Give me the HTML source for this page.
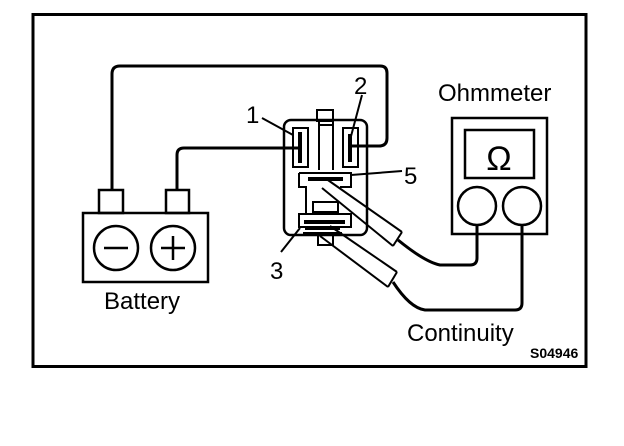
<!DOCTYPE html>
<html><head><style>body{margin:0;background:#fff}svg{display:block}text{font-family:"Liberation Sans",sans-serif;fill:#000}</style></head>
<body>
<svg width="624" height="446" viewBox="0 0 624 446" xmlns="http://www.w3.org/2000/svg">
<g fill="none" stroke="#000" stroke-width="3">
<rect x="33" y="14.5" width="553" height="352"/>
<!-- wires -->
<path d="M112 190 V74 Q112 66 120 66 H380 Q387 66 387 73 V138 Q387 146 379 146 H348"/>
<path d="M177 190 V155 Q177 148 184 148 H300"/>
<!-- battery -->
<rect x="83" y="213" width="125" height="69" stroke-width="2.5"/>
<rect x="99" y="190" width="24" height="23" stroke-width="2.5"/>
<rect x="166" y="190" width="23" height="23" stroke-width="2.5"/>
<circle cx="116" cy="248" r="22" stroke-width="2.5"/>
<circle cx="173" cy="248" r="22" stroke-width="2.5"/>
<path d="M104 248 H128 M161 248 H185 M173 236 V260" stroke-width="2.5"/>
<!-- relay -->
<rect x="284" y="120" width="83" height="115" rx="7" stroke-width="2.5"/>
<rect x="317" y="110" width="16" height="11" stroke-width="2"/>
<rect x="318" y="235" width="15" height="10" stroke-width="2"/>
<rect x="293" y="128" width="15" height="39" stroke-width="2"/>
<rect x="343" y="128" width="15" height="39" stroke-width="2"/>
<path d="M300 132 V163 M350 134 V162" stroke-width="4"/>
<path d="M319 121 V170 M333 121 V170 M319 125 H333" stroke-width="2"/>
<path d="M299 173 H351 V187 H340 M299 173 V187 H306 V214 M299 214 H351 V227 H299 Z" stroke-width="2"/>
<path d="M308 179 H343 M304 222 H345" stroke-width="4"/>
<rect x="313" y="202" width="25" height="10" stroke-width="2"/>
<path d="M305 229 H340 M303 233 H342" stroke-width="2"/>
<!-- probes -->
<g stroke-width="2">
<path d="M325 178 L402 232 M322 188 L393 246 M402 232 L393 246"/>
<path d="M330 226 L397 272 M320 236 L388 287 M397 272 L388 287"/>
</g>
<path d="M398 240 Q425 262 440 265 H470 Q477 265 477 258 V225"/>
<path d="M393 282 Q410 308 425 310 H515 Q522 310 522 303 V225"/>
<!-- leaders -->
<path d="M262 118 L293 135 M362 95 L350 140 M351 175 L402 171 M300 228 L281 252" stroke-width="2"/>
<!-- ohmmeter -->
<rect x="452" y="118" width="95" height="116" stroke-width="2.5"/>
<rect x="465" y="130" width="69" height="48" stroke-width="2.5"/>
<circle cx="477" cy="206" r="19" stroke-width="2.5"/>
<circle cx="522" cy="206" r="19" stroke-width="2.5"/>
</g>
<text x="499" y="170" font-size="34" text-anchor="middle">Ω</text>
<text x="104" y="309" font-size="24">Battery</text>
<text x="438" y="101" font-size="24">Ohmmeter</text>
<text x="407" y="341" font-size="24">Continuity</text>
<text x="530" y="358" font-size="14" font-weight="bold">S04946</text>
<text x="246" y="123" font-size="24">1</text>
<text x="354" y="94" font-size="24">2</text>
<text x="404" y="184" font-size="24">5</text>
<text x="270" y="279" font-size="24">3</text>
</svg>
</body></html>
